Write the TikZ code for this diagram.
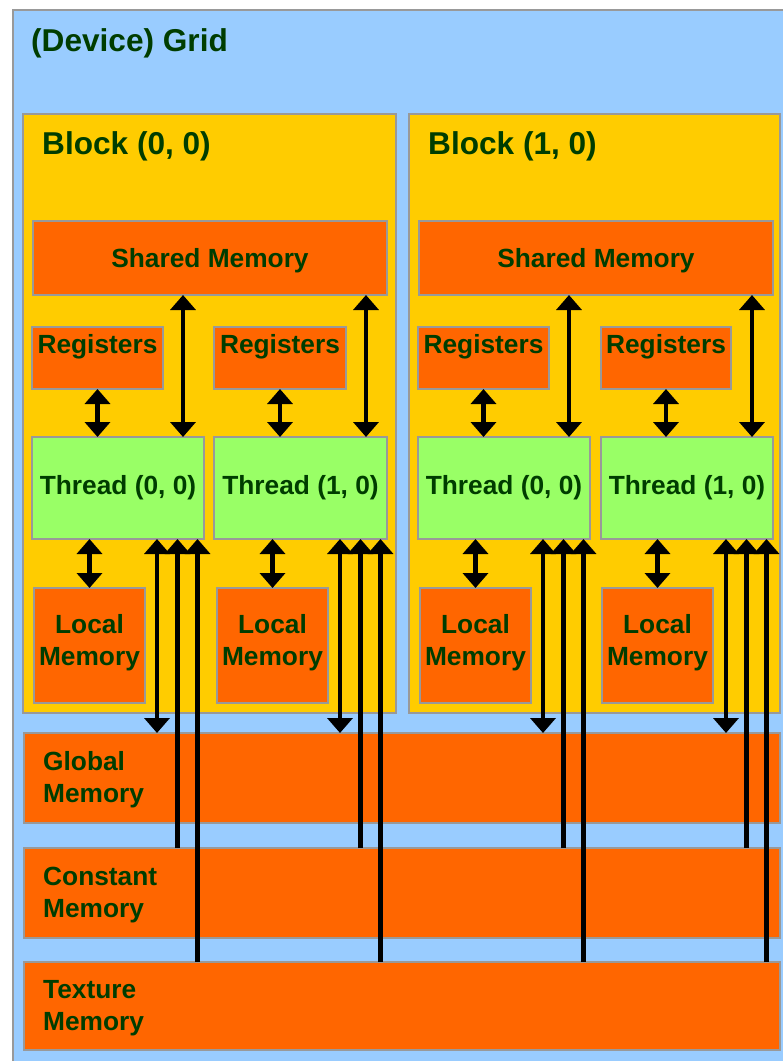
\documentclass[tikz,border=0pt]{standalone}
\usepackage{fontspec}
\setmainfont{Liberation Sans}
\usetikzlibrary{arrows.meta,calc}
\definecolor{gridblue}{HTML}{99CCFF}
\definecolor{blockyel}{HTML}{FFCC00}
\definecolor{memorange}{HTML}{FF6600}
\definecolor{thgreen}{HTML}{99FF66}
\definecolor{edgegray}{HTML}{999999}
\definecolor{txtgreen}{HTML}{003D00}
\newcommand{\dgbody}{\fontsize{26.3}{32}\selectfont\bfseries}
\newcommand{\dgtitle}{\fontsize{31.6}{36}\selectfont\bfseries}
\begin{document}
\begin{tikzpicture}[x=1pt,y=-1pt,
  box/.style={draw=edgegray,line width=2pt,inner sep=0pt,outer sep=0pt,anchor=north west,
              text=txtgreen,font=\dgbody,align=center},
  gridbox/.style={box,fill=gridblue,line width=1.5pt},
  blockbox/.style={box,fill=blockyel},
  membox/.style={box,fill=memorange},
  threadbox/.style={box,fill=thgreen},
  lbltxt/.style={text=txtgreen,font=\dgbody,inner sep=0pt,align=center},
  titletxt/.style={text=txtgreen,font=\dgtitle,inner sep=0pt,anchor=base west},
  memtxt/.style={text=txtgreen,font=\dgbody,inner sep=0pt,anchor=west,align=left},
  tipa/.tip={Triangle[width=25pt,length=15pt]},
  dbl/.style={line width=4.2pt,tipa-tipa},
  upto/.style={line width=4.2pt,-tipa},
]
\fill[white] (0,0) rectangle (783,1061);
\useasboundingbox (0,0) rectangle (783,1061);
\begin{scope}
\clip (0,0) rectangle (783,1061);
\node[gridbox,minimum width=820pt,minimum height=1100pt] (grid) at (13,10) {};
\node[titletxt] (gridlbl) at (31,51) {(Device) Grid};

% blocks
\node[blockbox,minimum width=373pt,minimum height=599pt] (blk0) at (23,114) {};
\node[blockbox,minimum width=371pt,minimum height=599pt] (blk1) at (409,114) {};
\node[titletxt] (blk0lbl) at (42,154) {Block (0, 0)};
\node[titletxt] (blk1lbl) at (428,154) {Block (1, 0)};

% shared memories
\node[membox,minimum width=354pt,minimum height=74pt,
  label={[lbltxt,yshift=-3pt]center:Shared Memory}] (sh0) at (33,221) {};
\node[membox,minimum width=354pt,minimum height=74pt,
  label={[lbltxt,yshift=-3pt]center:Shared Memory}] (sh1) at (419,221) {};

% registers
\node[membox,minimum width=131pt,minimum height=62pt,
  label={[lbltxt,anchor=north,yshift=-7.5pt]north:Registers}] (rg00) at (32,327) {};
\node[membox,minimum width=132pt,minimum height=62pt,
  label={[lbltxt,anchor=north,yshift=-7.5pt]north:Registers}] (rg01) at (214,327) {};
\node[membox,minimum width=131pt,minimum height=62pt,
  label={[lbltxt,anchor=north,yshift=-7.5pt]north:Registers}] (rg10) at (418,327) {};
\node[membox,minimum width=130pt,minimum height=62pt,
  label={[lbltxt,anchor=north,yshift=-7.5pt]north:Registers}] (rg11) at (601,327) {};

% threads
\node[threadbox,minimum width=172pt,minimum height=102pt] (th00) at (32,437) {Thread (0, 0)};
\node[threadbox,minimum width=173pt,minimum height=102pt] (th01) at (214,437) {Thread (1, 0)};
\node[threadbox,minimum width=172pt,minimum height=102pt] (th10) at (418,437) {Thread (0, 0)};
\node[threadbox,minimum width=172pt,minimum height=102pt] (th11) at (601,437) {Thread (1, 0)};

% local memories
\node[membox,minimum width=111pt,minimum height=115pt,
  label={[lbltxt,yshift=3pt]center:Local\\Memory}] (lm00) at (34,588) {};
\node[membox,minimum width=111pt,minimum height=115pt,
  label={[lbltxt,yshift=3pt]center:Local\\Memory}] (lm01) at (217,588) {};
\node[membox,minimum width=111pt,minimum height=115pt,
  label={[lbltxt,yshift=3pt]center:Local\\Memory}] (lm10) at (420,588) {};
\node[membox,minimum width=111pt,minimum height=115pt,
  label={[lbltxt,yshift=3pt]center:Local\\Memory}] (lm11) at (602,588) {};

% device memories
\node[membox,minimum width=756pt,minimum height=90pt] (glob) at (24,733) {};
\node[membox,minimum width=756pt,minimum height=90pt] (cons) at (24,848) {};
\node[membox,minimum width=756pt,minimum height=88pt] (texm) at (24,962) {};
\node[memtxt] (globlbl) at ($(glob.west)+(19,2)$) {Global\\Memory};
\node[memtxt] (conslbl) at ($(cons.west)+(19,2)$) {Constant\\Memory};
\node[memtxt] (texmlbl) at ($(texm.west)+(19,2)$) {Texture\\Memory};

% connectors
\foreach \t/\b in {00/0,01/0,10/1,11/1}{
  \draw[dbl] (rg\t.south) -- (rg\t.south |- th\t.north);
  \coordinate (s\t) at ($(th\t.north east)+(-21,0)$);
  \draw[dbl] (s\t) -- (s\t |- sh\b.south);
  \draw[dbl] (lm\t.north) -- (lm\t.north |- th\t.south);
  \coordinate (g\t) at ($(th\t.south east)+(-47,0)$);
  \draw[dbl] (g\t) -- (g\t |- glob.north);
  \coordinate (c\t) at ($(th\t.south east)+(-26.5,0)$);
  \draw[upto] (c\t |- cons.north) -- (c\t);
  \coordinate (x\t) at ($(th\t.south east)+(-6.5,0)$);
  \draw[upto] (x\t |- texm.north) -- (x\t);
}
\end{scope}
\end{tikzpicture}
\end{document}
